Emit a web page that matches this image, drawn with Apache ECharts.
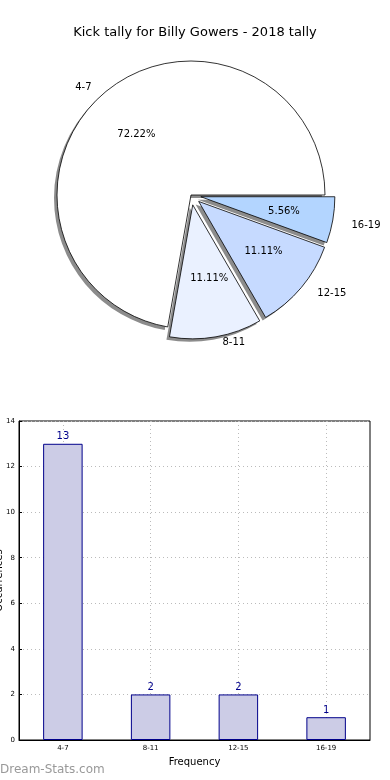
<!DOCTYPE html>
<html>
<head>
<meta charset="utf-8">
<script src="https://cdn.jsdelivr.net/npm/echarts@6/dist/echarts.min.js"></script>
<style>html,body{margin:0;padding:0;background:#fff;}#c{width:390px;height:780px;}</style>
</head>
<body>
<div id="c"></div>
<script>
var categories = ['4-7', '8-11', '12-15', '16-19'];
var counts = [13, 2, 2, 1];
var sliceColors = ['#ffffff', '#eaf1ff', '#c6daff', '#b3d5ff'];
var exploded = [false, true, true, true];
var yTicks = [0, 2, 4, 6, 8, 10, 12, 14];

var total = counts.reduce(function (a, b) { return a + b; }, 0);
var FONT = 'DejaVu Sans';
var CX = 191, CY = 195, R = 134;

var nameShift = [[-11, 8], [15, -11], [18, -5], [17, 3]];
var pctShift = [[-1, 3], [2, -9], [1, -4], [1, 0]];

function pieData(kind) {
  return categories.map(function (c, i) {
    var d = { name: c, value: counts[i], selected: exploded[i] };
    if (kind === 'main') d.itemStyle = { color: sliceColors[i] };
    return d;
  });
}

function pieSeries(name, center, radius, kind, extra) {
  var s = {
    type: 'pie', name: name,
    center: center, radius: radius,
    startAngle: 0, clockwise: false,
    selectedMode: 'multiple', selectedOffset: 10,
    emphasis: { disabled: true },
    label: { show: false }, labelLine: { show: false },
    data: pieData(kind)
  };
  for (var k in extra) s[k] = extra[k];
  return s;
}

var chart = echarts.init(document.getElementById('c'), null, { renderer: 'canvas' });
chart.setOption({
  animation: false,
  backgroundColor: '#ffffff',
  title: {
    text: 'Kick tally for Billy Gowers - 2018 tally',
    left: 'center', top: 21,
    textStyle: { fontFamily: FONT, fontSize: 13, fontWeight: 'normal', color: '#000' }
  },
  graphic: [{
    type: 'text', left: 0, top: 764,
    style: { text: 'Dream-Stats.com', fontFamily: FONT, fontSize: 12, fill: '#999999' }
  }],
  grid: {
    left: 19, right: 20, top: 421, bottom: 40,
    outerBoundsMode: 'none', containLabel: false,
    show: true, borderColor: '#000', borderWidth: 1, backgroundColor: 'transparent'
  },
  xAxis: {
    type: 'category',
    data: categories,
    name: 'Frequency', nameLocation: 'middle', nameGap: 17,
    nameTextStyle: { fontFamily: FONT, fontSize: 10, color: '#000' },
    axisLine: { lineStyle: { color: '#000' } },
    axisTick: { show: true, alignWithLabel: true, inside: true, length: 3, lineStyle: { color: '#000' } },
    axisLabel: { fontFamily: FONT, fontSize: 7, color: '#000', margin: 5 },
    splitLine: { show: true, alignWithLabel: true, lineStyle: { color: '#bbbbbb', type: [1, 3], width: 1 } }
  },
  yAxis: {
    type: 'value', min: 0, max: 14, interval: 2,
    name: 'Occurrences', nameLocation: 'middle', nameGap: 15, nameRotate: 90,
    nameMoveOverlap: false,
    nameTextStyle: { fontFamily: FONT, fontSize: 10, color: '#000' },
    axisLine: { show: true, lineStyle: { color: '#000' } },
    axisTick: { show: true, inside: true, length: 3, lineStyle: { color: '#000' } },
    axisLabel: { fontFamily: FONT, fontSize: 7, color: '#000', margin: 4,
      formatter: function (v) { return yTicks.indexOf(v) >= 0 ? String(v) : ''; } },
    splitLine: { show: true, lineStyle: { color: '#bbbbbb', type: [1, 3], width: 1 } }
  },
  series: [
    pieSeries('shadow', [CX - 3, CY + 3], [0, R], 'shadow', {
      silent: true,
      itemStyle: { color: '#8c8c8c', borderWidth: 0 }
    }),
    pieSeries('main', [CX, CY], [0, R], 'main', {
      itemStyle: { borderColor: '#000', borderWidth: 0.8 }
    }),
    pieSeries('pct', [CX, CY], [R * 0.2, R], 'pct', {
      silent: true,
      itemStyle: { color: 'transparent' },
      label: {
        show: true, position: 'inside', fontFamily: FONT, fontSize: 10, color: '#000',
        formatter: function (p) { return (p.value / total * 100).toFixed(2) + '%'; }
      },
      labelLayout: function (p) { return { dx: pctShift[p.dataIndex][0], dy: pctShift[p.dataIndex][1] }; }
    }),
    pieSeries('names', [CX, CY], [R, R * 1.2], 'name', {
      silent: true,
      itemStyle: { color: 'transparent' },
      label: { show: true, position: 'inside', fontFamily: FONT, fontSize: 10, color: '#000', formatter: '{b}' },
      labelLayout: function (p) { return { dx: nameShift[p.dataIndex][0], dy: nameShift[p.dataIndex][1] }; }
    }),
    {
      type: 'bar',
      data: counts,
      barWidth: '45%',
      itemStyle: { color: '#ccccE6', borderColor: '#00008b', borderWidth: 1 },
      label: { show: true, position: 'top', distance: 2, fontFamily: FONT, fontSize: 10, color: '#00008b' },
      emphasis: { disabled: true }
    }
  ]
});
</script>
</body>
</html>
